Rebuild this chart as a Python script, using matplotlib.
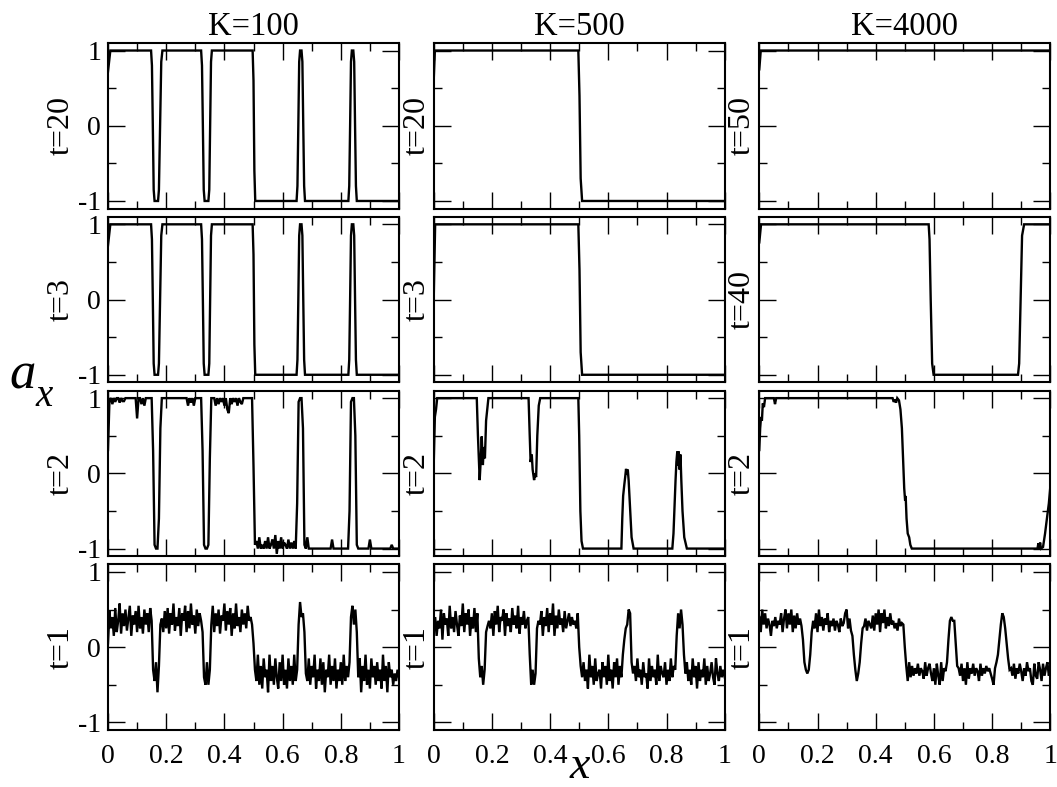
import numpy as np
import matplotlib
matplotlib.use("Agg")
import matplotlib.pyplot as plt
from matplotlib.ticker import FixedLocator

plt.rcParams["font.family"] = ["Liberation Serif", "DejaVu Serif"]
plt.rcParams["mathtext.fontset"] = "custom"
plt.rcParams["mathtext.it"] = "Liberation Serif:italic"
plt.rcParams["mathtext.rm"] = "Liberation Serif"

# ---------------------------------------------------------------- labels
col_titles = ["K=100", "K=500", "K=4000"]
row_labels = [
    ["t=20", "t=3", "t=2", "t=1"],
    ["t=20", "t=3", "t=2", "t=1"],
    ["t=50", "t=40", "t=2", "t=1"],
]
x_tick_vals = [0, 0.2, 0.4, 0.6, 0.8, 1.0]
x_tick_text = ["0", "0.2", "0.4", "0.6", "0.8", "1"]
y_tick_vals = [-1, 0, 1]
y_tick_text = ["-1", "0", "1"]

# ---------------------------------------------------------------- profiles given as (x, a) vertices
# K=100, late times (t=20 and t=3 coincide)
k100_late_x = [0.000, 0.008, 0.148, 0.151, 0.154, 0.157, 0.160, 0.172, 0.175, 0.179, 0.183, 0.187,
               0.320, 0.323, 0.326, 0.329, 0.332, 0.345, 0.348, 0.351, 0.354, 0.357,
               0.497, 0.500, 0.503, 0.506,
               0.648, 0.651, 0.654, 0.657, 0.660, 0.665, 0.668, 0.671, 0.674, 0.677,
               0.826, 0.829, 0.832, 0.835, 0.838, 0.843, 0.846, 0.849, 0.852, 0.855, 1.000]
k100_late_y = [0.72, 1.00, 1.00, 0.80, 0.00, -0.85, -1.00, -1.00, -0.85, 0.00, 0.85, 1.00,
               1.00, 0.80, 0.00, -0.85, -1.00, -1.00, -0.85, 0.00, 0.85, 1.00,
               1.00, 0.60, -0.60, -1.00,
               -1.00, -0.80, 0.00, 0.85, 1.00, 1.00, 0.85, 0.00, -0.80, -1.00,
               -1.00, -0.80, 0.00, 0.85, 1.00, 1.00, 0.85, 0.00, -0.80, -1.00, -1.00]

# K=500
k500_t20_x = [0.000, 0.004, 0.497, 0.501, 0.505, 0.510, 1.000]
k500_t20_y = [0.60, 1.00, 1.00, 0.40, -0.70, -1.00, -1.00]
k500_t3_x = [0.000, 0.005, 0.497, 0.501, 0.505, 0.510, 1.000]
k500_t3_y = [0.00, 1.00, 1.00, 0.40, -0.70, -1.00, -1.00]
k500_t2_x = [0.000, 0.004, 0.008, 0.012, 0.148, 0.152, 0.158, 0.162, 0.165, 0.169, 0.172, 0.176,
             0.180, 0.188, 0.326, 0.330, 0.333, 0.337, 0.340, 0.345, 0.348, 0.352, 0.356, 0.361,
             0.366, 0.497, 0.500, 0.504, 0.508, 0.513, 0.645, 0.648, 0.651, 0.655, 0.658, 0.661,
             0.664, 0.667, 0.670, 0.674, 0.680, 0.687, 0.820, 0.824, 0.828, 0.831, 0.834, 0.837,
             0.840, 0.842, 0.845, 0.848, 0.851, 0.855, 0.861, 0.870, 1.000]
k500_t2_y = [0.11, 0.75, 0.85, 1.00, 1.00, 0.50, -0.09, 0.20, 0.49, 0.11, 0.35, 0.20,
             0.70, 1.00, 1.00, 0.50, 0.15, 0.25, 0.05, -0.09, 0.00, -0.05, 0.50, 0.90,
             1.00, 1.00, 0.50, -0.50, -0.90, -1.00, -1.00, -0.60, -0.30, -0.15, -0.05, 0.06,
             -0.02, 0.05, -0.10, -0.40, -0.85, -1.00, -1.00, -0.80, -0.40, -0.10, 0.15, 0.29,
             0.10, 0.29, 0.05, 0.25, -0.10, -0.50, -0.85, -1.00, -1.00]

# K=4000
k4000_t50_x = [0.000, 0.005, 1.000]
k4000_t50_y = [0.75, 1.00, 1.00]
k4000_t40_x = [0.000, 0.006, 0.582, 0.585, 0.589, 0.594, 0.599, 0.889, 0.893, 0.898, 0.903, 0.910, 1.000]
k4000_t40_y = [0.76, 1.00, 1.00, 0.80, 0.00, -0.85, -1.00, -1.00, -0.85, 0.00, 0.85, 1.00, 1.00]
k4000_t2_x = [0.000, 0.003, 0.006, 0.009, 0.012, 0.016, 0.020, 0.050, 0.054, 0.058, 0.458, 0.462,
              0.466, 0.470, 0.474, 0.480, 0.485, 0.490, 0.494, 0.498, 0.501, 0.503, 0.506, 0.510,
              0.515, 0.519, 0.524, 0.956, 0.959, 0.962, 0.965, 0.968, 0.975, 0.982, 0.990, 0.995,
              1.000]
k4000_t2_y = [0.31, 0.60, 0.75, 0.70, 0.93, 0.88, 1.00, 1.00, 0.92, 1.00, 1.00, 0.95,
              0.98, 0.94, 1.00, 0.97, 0.85, 0.60, 0.20, -0.20, -0.36, -0.30, -0.60, -0.80,
              -0.85, -0.95, -1.00, -1.00, -0.93, -1.00, -0.92, -1.00, -0.98, -0.80, -0.55, -0.40,
              -0.18]

# ---------------------------------------------------------------- lattice profiles (201 sites, values x100)
k100_t2 = [
    31, 97, 100, 92, 100, 95, 100, 100, 94, 100, 96, 96, 100,
    100, 100, 100, 100, 100, 100, 100,
    73, 100, 100, 92, 100, 90, 100, 100, 100, 100, 100,
    30, -95, -100, -100, -60, 60, 100,
    100, 100, 100, 100, 100, 100, 100, 100, 100, 100, 100, 100, 100, 100, 100, 100, 100,
    90, 100, 94, 100, 90, 100, 100, 100, 100, 100,
    30, -95, -100, -100, -95, 20, 100, 100, 100,
    90, 100, 92, 100, 95, 100, 90, 100, 85, 80, 100, 92, 100, 95, 100, 90, 100, 95, 92, 100,
    100, 100, 100, 100, 100, 100,
    10,
    -95, -90, -100, -85, -100, -95, -100, -90, -100, -85, -100, -95, -88, -100, -82,
    -107, -90, -100, -85, -100, -92, -95, -100, -88, -100, -92, -100, -90, -100,
    -40, 95, 100, 100, 60, -95, -100, -85, -100,
    -100, -100, -100, -100, -100, -100, -100, -100, -100, -100, -100, -100, -100, -100, -100,
    -88,
    -100, -100, -100, -100, -100, -100, -100, -100, -100, -100, -100,
    -50, 95, 100, 100, 50, -95,
    -100, -100, -100, -100, -100, -100, -100, -100,
    -88,
    -100, -100, -100, -100, -100, -100, -100, -100, -100, -100, -100, -100, -100, -100,
    -95,
    -100, -100, -100, -100, -100,
]

k100_t1 = [
    5, 48, 25, 40, 15, 52, 20, 35, 58, 18, 45, 28, 50, 22, 38, 55, 15, 42, 30, 48,
    20, 55, 25, 40, 18, 50, 30, 45, 20, 52, 35,
    -30, -45, -20, -60, -25,
    30, 38, 20, 48, 25, 52, 18, 45, 30, 58, 22, 40, 28, 52, 15, 45, 35, 55, 20, 48,
    25, 58, 30, 42, 18, 50, 28, 45, 35, 20,
    -40, -50, -20, -50, -30,
    30, 55, 20, 45, 28, 50, 18, 42, 35, 58, 22, 48, 30, 52, 15, 45, 25, 58, 28, 40,
    20, 50, 30, 45, 25, 55, 35, 40, 30,
    5, -30,
    -45, -10, -50, -25, -55, -15, -40, -30, -60, -10, -45, -25, -50, -15, -40, -55,
    -20, -45, -10, -50, -30, -55, -15, -45, -25, -50, -10, -45, -30,
    30, 60, 40, 45, 20,
    -35, -45, -15, -50, -25, -40, -10, -55, -30, -45, -15, -50, -20, -60, -30, -40,
    -10, -50, -25, -45, -15, -55, -30, -45, -20, -50, -10, -45, -25, -40, -20,
    40, 55, 30, 50, 20,
    -40, -15, -60, -25, -45, -10, -50, -30, -55, -15, -40, -25, -50, -20, -45, -30,
    -55, -10, -45, -25, -60, -20, -40, -30, -50, -35, -45, -30, -40,
]

k500_t1 = [
    20, 40, 15, 35, 25, 50, 10, 45, 30, 38, 15, 55, 25, 40, 20, 48, 30, 15, 42, 28,
    58, 20, 45, 30, 50, 15, 40, 25, 52, 20, 45,
    -15, -40, -25, -50, -30,
    20, 28, 35, 25, 45, 15, 48, 30, 55, 20, 40, 35, 50, 15, 45, 28, 38, 20, 52, 30,
    42, 25, 55, 18, 40, 30, 48, 25, 35, 40,
    -10, -50, -30, -50, -35,
    25, 35, 30, 48, 15, 40, 28, 52, 20, 45, 30, 58, 15, 42, 25, 50, 30, 38, 20, 48,
    25, 35, 45, 28, 40, 30, 35, 25, 45,
    0, -25,
    -40, -20, -45, -30, -55, -10, -40, -25, -50, -15, -45, -35, -30, -55, -20, -40,
    -25, -50, -10, -45, -30, -55, -20, -40, -15, -50, -25, -40, -10,
    10, 25, 30, 50, 45,
    -20, -35, -25, -45, -15, -40, -30, -50, -20, -40, -35, -55, -15, -45, -25, -40,
    -30, -50, -10, -45, -25, -35, -40, -20, -50, -30, -45, -15, -40, -25, -30,
    15, 45, 25, 50, 30,
    -10, -35, -20, -45, -30, -50, -15, -40, -25, -55, -20, -45, -30, -40, -15, -50,
    -25, -45, -35, -20, -40, -50, -15, -35, -45, -25, -40, -30, -40,
]

k4000_t1 = [
    40, 20, 50, 30, 45, 25, 38, 30, 15, 35, 28, 40, 25, 35, 30, 45, 20, 38, 50, 25,
    45, 30, 50, 20, 42, 25, 45, 30, 38, 28,
    10, -20, -30, -35, -30, -10,
    20, 35, 25, 45, 20, 50, 28, 40, 22, 38, 30, 45, 20, 35, 28, 38, 22, 35, 30, 20,
    38, 28, 32, 45, 50, 25, 38, 22,
    15, -10, -30, -45, -35, -20, 5, 25,
    28, 38, 22, 35, 30, 25, 42, 22, 45, 30, 50, 20, 45, 32, 50, 25, 40, 28, 45, 30,
    35, 25, 32, 22, 38, 28, 32, 30,
    0, -25,
    -45, -20, -40, -25, -38, -28, -35, -22, -38, -28, -32, -42, -20, -38, -28, -22,
    -35, -45, -28, -50, -22, -38, -50, -20, -45, -28, -32,
    -20, 10, 35, 40, 35, 35, 5, -25,
    -28, -38, -22, -45, -28, -50, -20, -42, -28, -35, -22, -38, -28, -32, -45, -22,
    -38, -28, -35, -25, -32, -28, -35, -42, -50, -28, -20,
    -10, 10, 30, 45, 40, 25, 5, -15, -30,
    -28, -38, -22, -42, -28, -35, -22, -32, -45, -28, -38, -20, -32, -28, -45, -50,
    -22, -38, -42, -20, -30, -45, -22, -38, -28, -20, -38, -30,
]


def lattice(vals):
    v = np.asarray(vals, dtype=float) / 100.0
    return np.linspace(0.0, 1.0, len(v)), v


# panels[col][row] -> (x, a)
panels = [
    [(k100_late_x, k100_late_y), (k100_late_x, k100_late_y), lattice(k100_t2), lattice(k100_t1)],
    [(k500_t20_x, k500_t20_y), (k500_t3_x, k500_t3_y), (k500_t2_x, k500_t2_y), lattice(k500_t1)],
    [(k4000_t50_x, k4000_t50_y), (k4000_t40_x, k4000_t40_y), (k4000_t2_x, k4000_t2_y), lattice(k4000_t1)],
]

# ---------------------------------------------------------------- figure
W, H = 1057, 787
fig = plt.figure(figsize=(W / 100, H / 100), dpi=100)

col_left = [108.0, 433.7, 759.3]
panel_w = 291.0
row_top = [43.0, 216.8, 390.6, 564.4]
panel_h = 165.5

ylabel_x = [-0.16, -0.058, -0.058]

for c in range(3):
    for r in range(4):
        L, T = col_left[c], row_top[r]
        ax = fig.add_axes([L / W, 1 - (T + panel_h) / H, panel_w / W, panel_h / H])
        x, a = panels[c][r]
        ax.plot(x, a, color="black", lw=1.7, solid_joinstyle="miter")
        ax.set_xlim(0, 1)
        ax.set_ylim(-1.1, 1.1)

        ax.xaxis.set_major_locator(FixedLocator(x_tick_vals))
        ax.xaxis.set_minor_locator(FixedLocator([0.1, 0.3, 0.5, 0.7, 0.9]))
        ax.yaxis.set_major_locator(FixedLocator(y_tick_vals))
        ax.yaxis.set_minor_locator(FixedLocator([-0.5, 0.5]))
        ax.tick_params(which="both", direction="in", top=True, right=True,
                       width=1.0, color="black")
        ax.tick_params(which="major", length=12)
        ax.tick_params(which="minor", length=6)
        ax.tick_params(axis="x", which="major", pad=10, labelsize=20)
        ax.tick_params(axis="y", which="major", pad=5, labelsize=20)

        if r == 3:
            ax.set_xticklabels(x_tick_text)
        else:
            ax.set_xticklabels([])
        if c == 0:
            ax.set_yticklabels(y_tick_text)
        else:
            ax.set_yticklabels([])

        for sp in ax.spines.values():
            sp.set_linewidth(1.5)

        ax.text(ylabel_x[c], 0.5, row_labels[c][r], transform=ax.transAxes,
                rotation=90, ha="center", va="center", fontsize=23)

        if r == 0:
            ax.text(0.5, 1.0 + (T - 35) / panel_h, col_titles[c], transform=ax.transAxes,
                    ha="center", va="baseline", fontsize=23.5)

# axis names: a_x on the left, x below the middle column
fig.text(9 / W, 1 - 389 / H, "a", ha="left", va="baseline", fontsize=38, style="italic")
fig.text(35 / W, 1 - 406 / H, "x", ha="left", va="baseline", fontsize=28, style="italic")
fig.text(580 / W, 1 - 778 / H, "x", ha="center", va="baseline", fontsize=33, style="italic")

fig.savefig("out.png", dpi=100)
